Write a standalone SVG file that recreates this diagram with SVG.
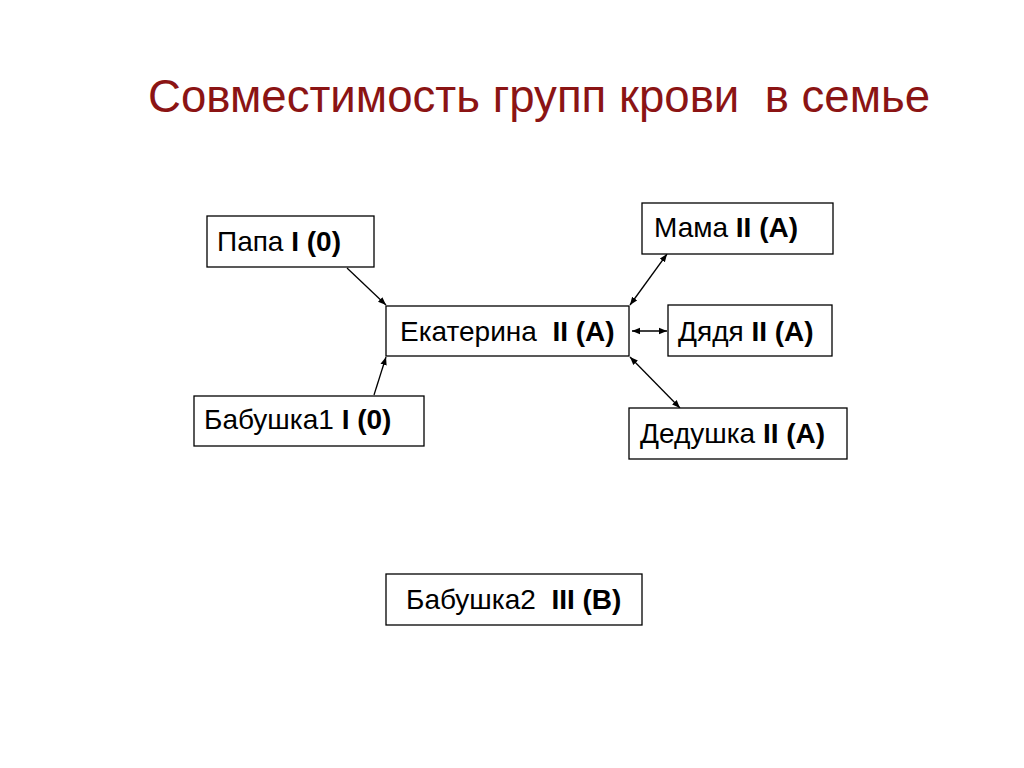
<svg xmlns="http://www.w3.org/2000/svg" width="1024" height="768" viewBox="0 0 1024 768">
<style>
.box{fill:#fff;stroke:#000;stroke-width:1.3}
.t{font-family:"Liberation Sans",Arial,sans-serif;font-size:28px;fill:#000}
.b{font-weight:bold}
.c{stroke:#000;stroke-width:1.3;fill:none}
.title{font-family:"Liberation Sans",Arial,sans-serif;font-size:45.6px;fill:#8b1414}
</style>
<defs>
<marker id="ah" viewBox="0 0 10 10" refX="10" refY="5" markerWidth="8" markerHeight="8" markerUnits="userSpaceOnUse" orient="auto-start-reverse">
<path d="M0,1 L10,5 L0,9 z" fill="#000"/>
</marker>
</defs>
<rect width="1024" height="768" fill="#fff"/>
<text class="title" x="148" y="112" xml:space="preserve">Совместимость групп крови  в семье</text>
<g id="connectors">
<line class="c" x1="347" y1="268" x2="386" y2="305" marker-end="url(#ah)"/>
<line class="c" x1="374" y1="395" x2="386" y2="357" marker-end="url(#ah)"/>
<line class="c" x1="667" y1="254" x2="630" y2="305" marker-start="url(#ah)" marker-end="url(#ah)"/>
<line class="c" x1="667" y1="331" x2="632" y2="331" marker-start="url(#ah)" marker-end="url(#ah)"/>
<line class="c" x1="680" y1="408" x2="630" y2="357" marker-start="url(#ah)" marker-end="url(#ah)"/>
</g>
<g id="papa"><rect class="box" x="207" y="216" width="167" height="51"/><text class="t" x="217" y="251">Папа <tspan class="b">I (0)</tspan></text></g>
<g id="ekaterina"><rect class="box" x="386" y="306" width="243" height="50"/><text class="t" x="400" y="341" xml:space="preserve">Екатерина  <tspan class="b">II (A)</tspan></text></g>
<g id="babushka1"><rect class="box" x="194" y="396" width="230" height="50"/><text class="t" x="204" y="429">Бабушка1 <tspan class="b">I (0)</tspan></text></g>
<g id="mama"><rect class="box" x="642" y="203" width="191" height="51"/><text class="t" x="654" y="237">Мама <tspan class="b">II (A)</tspan></text></g>
<g id="dyadya"><rect class="box" x="668" y="305" width="164" height="51"/><text class="t" x="678" y="341">Дядя <tspan class="b">II (A)</tspan></text></g>
<g id="dedushka"><rect class="box" x="629" y="408" width="218" height="51"/><text class="t" x="640" y="443">Дедушка <tspan class="b">II (A)</tspan></text></g>
<g id="babushka2"><rect class="box" x="386" y="574" width="256" height="51"/><text class="t" x="406" y="609" xml:space="preserve">Бабушка2  <tspan class="b">III (B)</tspan></text></g>
</svg>
